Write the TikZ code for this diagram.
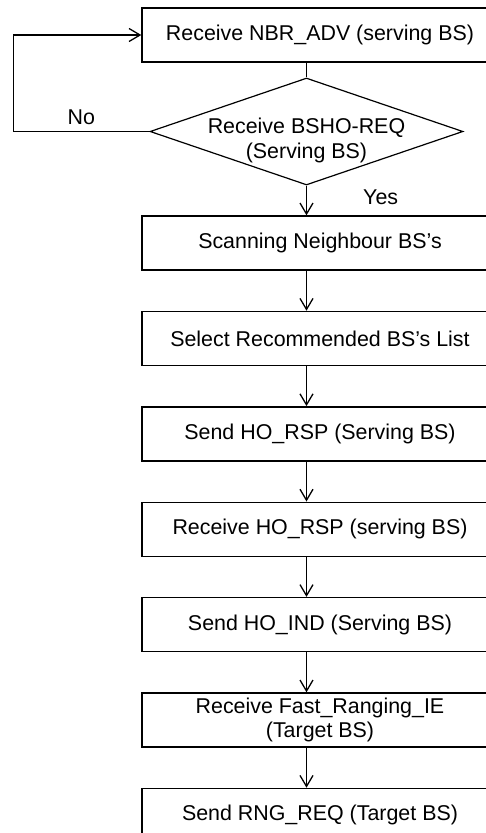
\documentclass[tikz,border=0pt]{standalone}
\usepackage{fontspec}
\setmainfont{Liberation Sans}
\usetikzlibrary{
  shapes.geometric,
  arrows.meta,
  positioning,
}

\begin{document}
\begin{tikzpicture}[
  x=1pt, y=-1pt,
  node distance=40pt,
  every node/.style={font=\fontsize{21.4}{24.5}\selectfont},
  stepbox/.style={
    draw=black,
    line width=1.4pt,
    minimum width=356pt,
    minimum height=54pt,
    align=center,
    inner sep=2pt,
  },
  decision/.style={
    diamond,
    aspect=2.925,
    draw=black,
    line width=1.2pt,
    minimum width=313pt,
    minimum height=107pt,
    inner sep=0pt,
  },
  arr/.style={
    -{Straight Barb[length=11pt, width=13pt, line width=1.3pt]},
    line width=1.4pt,
  },
  lbl/.style={
    inner sep=2pt,
    align=center,
  },
]

\path[use as bounding box, fill=white] (0,0) rectangle (486,833);

% =============================================================================
% Neighbour advertisement and handover request check
% =============================================================================
\node[stepbox] (recvadv) at (320,35) {Receive NBR\_ADV (serving BS)};
\node[decision,
      label={[lbl, yshift=-9pt]center:Receive BSHO-REQ\\(Serving BS)}]
  (bshoreq) at (306.5,131.5) {};

\draw[line width=1.4pt] (recvadv.south -| bshoreq.north) -- (bshoreq.north);

% no request yet: go back and wait for the next advertisement
\draw[arr]
  (bshoreq.west) -- node[lbl, above=4pt] {No} ++(-136,0)
  |- (recvadv.west);

% =============================================================================
% Handover steps
% =============================================================================
\node[stepbox] (scan) at (320,243) {Scanning Neighbour BS's};
\node[stepbox, below=of scan] (select) {Select Recommended BS's List};
\node[stepbox, below=of select] (sendrsp) {Send HO\_RSP (Serving BS)};
\node[stepbox, below=of sendrsp] (recvrsp) {Receive HO\_RSP (serving BS)};
\node[stepbox, below=of recvrsp] (sendind) {Send HO\_IND (Serving BS)};
\node[stepbox, below=of sendind] (ranging) {Receive Fast\_Ranging\_IE\\(Target BS)};
\node[stepbox, below=of ranging] (sendrng) {Send RNG\_REQ (Target BS)};

\draw[arr] (bshoreq.south) --
  node[lbl, pos=0.4, right=54pt] {Yes} (scan.north -| bshoreq.south);

\foreach \from/\to in {scan/select, select/sendrsp, sendrsp/recvrsp,
                       recvrsp/sendind, sendind/ranging, ranging/sendrng}
  \draw[arr] (\from.south -| bshoreq.south) -- (\to.north -| bshoreq.south);

\end{tikzpicture}
\end{document}
